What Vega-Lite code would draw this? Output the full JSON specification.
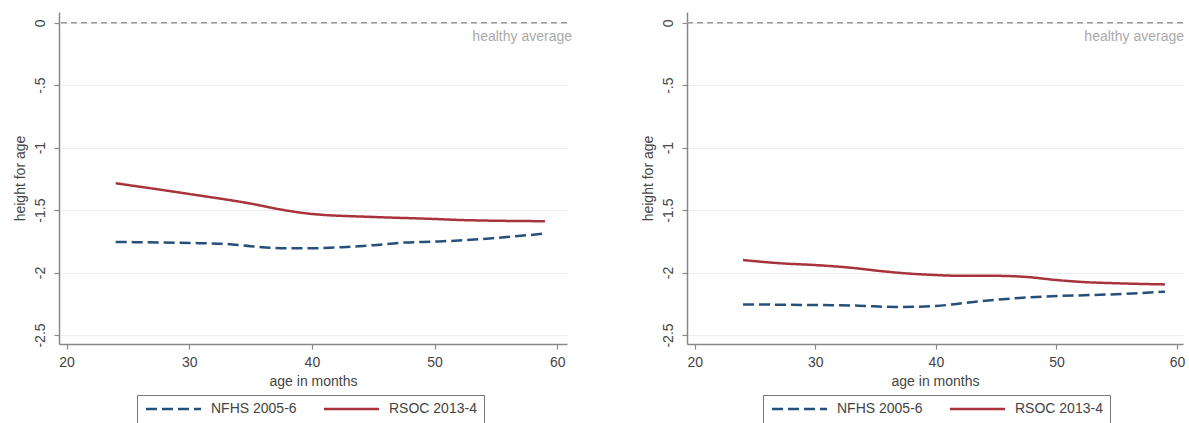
{
  "$schema": "https://vega.github.io/schema/vega-lite/v6.json",
  "background": "white",
  "padding": {"left": 13, "top": 12, "right": 0, "bottom": 0},
  "spacing": 69,
  "datasets": {
    "left": [
      {"survey": "RSOC 2013-4", "age": 24, "haz": -1.285},
      {"survey": "RSOC 2013-4", "age": 30, "haz": -1.371},
      {"survey": "RSOC 2013-4", "age": 35, "haz": -1.448},
      {"survey": "RSOC 2013-4", "age": 37.5, "haz": -1.496},
      {"survey": "RSOC 2013-4", "age": 40, "haz": -1.531},
      {"survey": "RSOC 2013-4", "age": 45, "haz": -1.555},
      {"survey": "RSOC 2013-4", "age": 50, "haz": -1.571},
      {"survey": "RSOC 2013-4", "age": 52, "haz": -1.579},
      {"survey": "RSOC 2013-4", "age": 59, "haz": -1.589},
      {"survey": "NFHS 2005-6", "age": 24, "haz": -1.755},
      {"survey": "NFHS 2005-6", "age": 30, "haz": -1.763},
      {"survey": "NFHS 2005-6", "age": 33, "haz": -1.771},
      {"survey": "NFHS 2005-6", "age": 35, "haz": -1.789},
      {"survey": "NFHS 2005-6", "age": 37.5, "haz": -1.805},
      {"survey": "NFHS 2005-6", "age": 40, "haz": -1.805},
      {"survey": "NFHS 2005-6", "age": 42.5, "haz": -1.797},
      {"survey": "NFHS 2005-6", "age": 45, "haz": -1.781},
      {"survey": "NFHS 2005-6", "age": 47.5, "haz": -1.76},
      {"survey": "NFHS 2005-6", "age": 50, "haz": -1.752},
      {"survey": "NFHS 2005-6", "age": 52.5, "haz": -1.741},
      {"survey": "NFHS 2005-6", "age": 55, "haz": -1.723},
      {"survey": "NFHS 2005-6", "age": 59, "haz": -1.688}
    ],
    "right": [
      {"survey": "RSOC 2013-4", "age": 24, "haz": -1.9},
      {"survey": "RSOC 2013-4", "age": 27.3, "haz": -1.927},
      {"survey": "RSOC 2013-4", "age": 30, "haz": -1.94},
      {"survey": "RSOC 2013-4", "age": 33, "haz": -1.962},
      {"survey": "RSOC 2013-4", "age": 35.4, "haz": -1.988},
      {"survey": "RSOC 2013-4", "age": 37.6, "haz": -2.007},
      {"survey": "RSOC 2013-4", "age": 40, "haz": -2.02},
      {"survey": "RSOC 2013-4", "age": 42, "haz": -2.026},
      {"survey": "RSOC 2013-4", "age": 44.8, "haz": -2.026},
      {"survey": "RSOC 2013-4", "age": 47.6, "haz": -2.036},
      {"survey": "RSOC 2013-4", "age": 50, "haz": -2.06},
      {"survey": "RSOC 2013-4", "age": 51.9, "haz": -2.074},
      {"survey": "RSOC 2013-4", "age": 55.4, "haz": -2.087},
      {"survey": "RSOC 2013-4", "age": 59, "haz": -2.095},
      {"survey": "NFHS 2005-6", "age": 24, "haz": -2.255},
      {"survey": "NFHS 2005-6", "age": 30, "haz": -2.26},
      {"survey": "NFHS 2005-6", "age": 33.6, "haz": -2.265},
      {"survey": "NFHS 2005-6", "age": 36.7, "haz": -2.276},
      {"survey": "NFHS 2005-6", "age": 40, "haz": -2.268},
      {"survey": "NFHS 2005-6", "age": 42, "haz": -2.247},
      {"survey": "NFHS 2005-6", "age": 44.8, "haz": -2.22},
      {"survey": "NFHS 2005-6", "age": 47.6, "haz": -2.199},
      {"survey": "NFHS 2005-6", "age": 50, "haz": -2.188},
      {"survey": "NFHS 2005-6", "age": 52.9, "haz": -2.18},
      {"survey": "NFHS 2005-6", "age": 55.4, "haz": -2.172},
      {"survey": "NFHS 2005-6", "age": 59, "haz": -2.153}
    ],
    "ref": [{"label": "healthy average", "haz": 0}]
  },
  "config": {
    "font": "Liberation Sans",
    "view": {"stroke": null},
    "axis": {
      "domainColor": "#888888",
      "domainWidth": 1.5,
      "tickColor": "#888888",
      "tickWidth": 1.2,
      "tickSize": 5,
      "labelColor": "#444444",
      "labelFontSize": 14,
      "titleColor": "#444444",
      "titleFontSize": 14,
      "titleFontWeight": "normal",
      "gridColor": "#eeeeee",
      "gridWidth": 1
    },
    "legend": {
      "labelFontSize": 14,
      "labelColor": "#444444"
    }
  },
  "resolve": {
    "scale": {"color": "independent", "strokeDash": "independent"},
    "legend": {"color": "independent", "strokeDash": "independent"}
  },
  "hconcat": [
    {
      "width": 508,
      "height": 332,
      "layer": [
        {
          "data": {"name": "ref"},
          "mark": {"type": "rule", "color": "#999999", "strokeDash": [6, 4], "strokeWidth": 1.3},
          "encoding": {"y": {"field": "haz", "type": "quantitative", "scale": {"domain": [-2.572, 0.086]}}}
        },
        {
          "data": {"name": "ref"},
          "mark": {"type": "text", "align": "right", "baseline": "middle", "dx": 5, "dy": 14, "fontSize": 14, "color": "#aaaaaa"},
          "encoding": {
            "x": {"datum": 60.8, "type": "quantitative"},
            "y": {"field": "haz", "type": "quantitative"},
            "text": {"field": "label"}
          }
        },
        {
          "data": {"name": "left"},
          "mark": {"type": "line", "strokeWidth": 2.5, "interpolate": "monotone"},
          "encoding": {
            "x": {
              "field": "age", "type": "quantitative",
              "scale": {"domain": [19.38, 60.8], "nice": false, "zero": false},
              "axis": {"title": "age in months", "values": [20, 30, 40, 50, 60], "grid": false, "labelPadding": 6, "titlePadding": 5}
            },
            "y": {
              "field": "haz", "type": "quantitative",
              "scale": {"domain": [-2.572, 0.086], "nice": false, "zero": false},
              "axis": {
                "title": "height for age",
                "values": [0, -0.5, -1, -1.5, -2, -2.5],
                "labelExpr": "replace(replace(format(datum.value, '.1~f'), '\u2212', '-'), '0.', '.')",
                "labelAngle": -90, "labelAlign": "center", "labelBaseline": "bottom",
                "labelPadding": 7, "titlePadding": 6, "grid": true
              }
            },
            "color": {
              "field": "survey", "type": "nominal",
              "scale": {"domain": ["NFHS 2005-6", "RSOC 2013-4"], "range": ["#24507a", "#a8333a"]},
              "legend": {
                "title": null, "orient": "none", "direction": "horizontal",
                "legendX": 78, "legendY": 383,
                "strokeColor": "#777777", "padding": 7,
                "symbolType": "M-1,0H10", "symbolSize": 100, "symbolStrokeWidth": 2.5,
                "labelOffset": 53, "columnPadding": 22
              }
            },
            "strokeDash": {
              "field": "survey", "type": "nominal",
              "scale": {"domain": ["NFHS 2005-6", "RSOC 2013-4"], "range": [[11, 5], [1, 0]]},
              "legend": {
                "title": null, "orient": "none", "direction": "horizontal",
                "legendX": 78, "legendY": 383,
                "strokeColor": "#777777", "padding": 7,
                "symbolType": "M-1,0H10", "symbolSize": 100, "symbolStrokeWidth": 2.5,
                "labelOffset": 53, "columnPadding": 22
              }
            }
          }
        }
      ]
    },
    {
      "width": 496,
      "height": 332,
      "layer": [
        {
          "data": {"name": "ref"},
          "mark": {"type": "rule", "color": "#999999", "strokeDash": [6, 4], "strokeWidth": 1.3},
          "encoding": {"y": {"field": "haz", "type": "quantitative", "scale": {"domain": [-2.572, 0.086]}}}
        },
        {
          "data": {"name": "ref"},
          "mark": {"type": "text", "align": "right", "baseline": "middle", "dx": 1, "dy": 14, "fontSize": 14, "color": "#aaaaaa"},
          "encoding": {
            "x": {"datum": 60.5, "type": "quantitative"},
            "y": {"field": "haz", "type": "quantitative"},
            "text": {"field": "label"}
          }
        },
        {
          "data": {"name": "right"},
          "mark": {"type": "line", "strokeWidth": 2.5, "interpolate": "monotone"},
          "encoding": {
            "x": {
              "field": "age", "type": "quantitative",
              "scale": {"domain": [19.35, 60.5], "nice": false, "zero": false},
              "axis": {"title": "age in months", "values": [20, 30, 40, 50, 60], "grid": false, "labelPadding": 6, "titlePadding": 5}
            },
            "y": {
              "field": "haz", "type": "quantitative",
              "scale": {"domain": [-2.572, 0.086], "nice": false, "zero": false},
              "axis": {
                "title": "height for age",
                "values": [0, -0.5, -1, -1.5, -2, -2.5],
                "labelExpr": "replace(replace(format(datum.value, '.1~f'), '\u2212', '-'), '0.', '.')",
                "labelAngle": -90, "labelAlign": "center", "labelBaseline": "bottom",
                "labelPadding": 7, "titlePadding": 6, "grid": true
              }
            },
            "color": {
              "field": "survey", "type": "nominal",
              "scale": {"domain": ["NFHS 2005-6", "RSOC 2013-4"], "range": ["#24507a", "#a8333a"]},
              "legend": {
                "title": null, "orient": "none", "direction": "horizontal",
                "legendX": 76, "legendY": 383,
                "strokeColor": "#777777", "padding": 7,
                "symbolType": "M-1,0H10", "symbolSize": 100, "symbolStrokeWidth": 2.5,
                "labelOffset": 53, "columnPadding": 22
              }
            },
            "strokeDash": {
              "field": "survey", "type": "nominal",
              "scale": {"domain": ["NFHS 2005-6", "RSOC 2013-4"], "range": [[11, 5], [1, 0]]},
              "legend": {
                "title": null, "orient": "none", "direction": "horizontal",
                "legendX": 76, "legendY": 383,
                "strokeColor": "#777777", "padding": 7,
                "symbolType": "M-1,0H10", "symbolSize": 100, "symbolStrokeWidth": 2.5,
                "labelOffset": 53, "columnPadding": 22
              }
            }
          }
        }
      ]
    }
  ]
}
